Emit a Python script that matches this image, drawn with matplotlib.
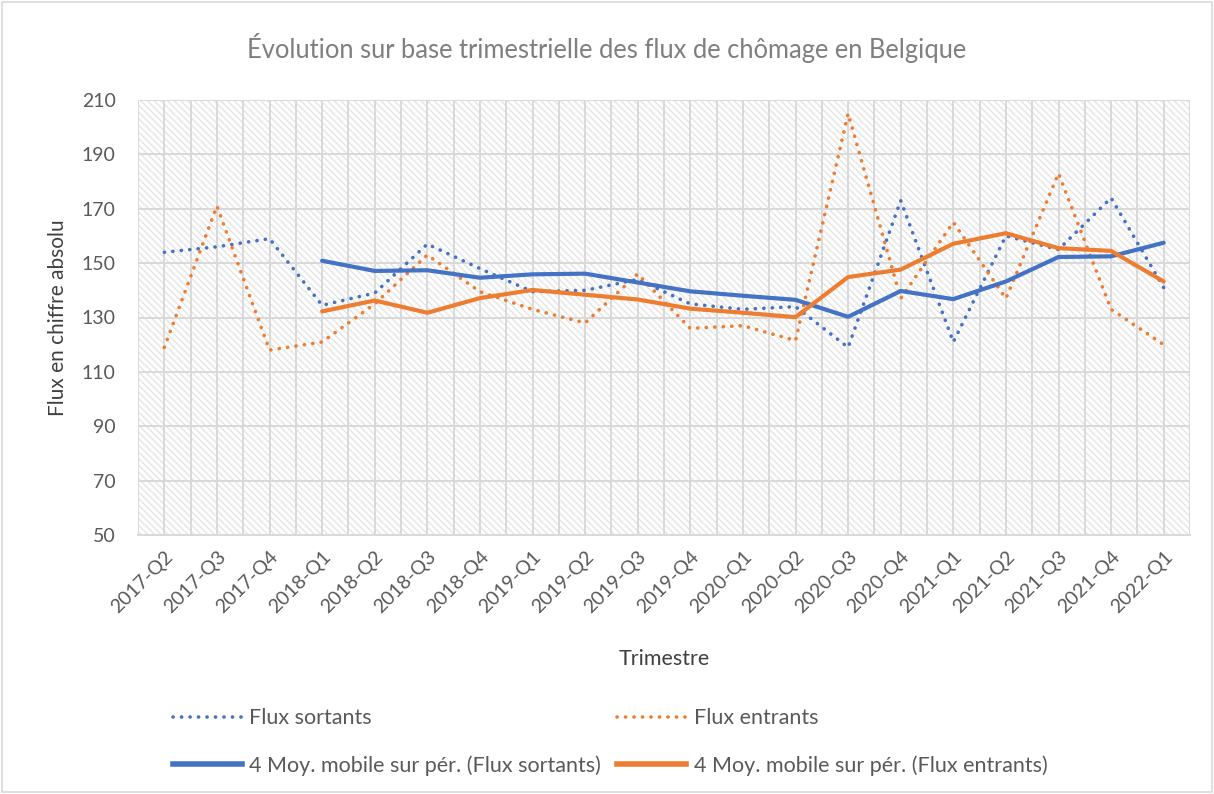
import numpy as np
import pandas as pd
import matplotlib
matplotlib.use('Agg')
import matplotlib.pyplot as plt
from matplotlib.patches import Rectangle
from matplotlib.lines import Line2D


quarters = ['2017-Q2', '2017-Q3', '2017-Q4', '2018-Q1', '2018-Q2', '2018-Q3',
            '2018-Q4', '2019-Q1', '2019-Q2', '2019-Q3', '2019-Q4', '2020-Q1',
            '2020-Q2', '2020-Q3', '2020-Q4', '2021-Q1', '2021-Q2', '2021-Q3',
            '2021-Q4', '2022-Q1']

flux_sortants = [154, 156, 159, 134.5, 139, 157, 148, 139.5, 140, 144,
                 135, 133, 134, 119, 173, 121, 160, 155, 174, 141]
flux_entrants = [119, 171, 118, 121, 135, 153, 139.5, 133, 128, 146,
                 126, 127, 121.5, 205, 137, 165, 137, 183, 133, 120]

yticks = [50, 70, 90, 110, 130, 150, 170, 190, 210]

# 4-period moving average trendline (like Excel)
ma_sortants = pd.Series(flux_sortants).rolling(4).mean()
ma_entrants = pd.Series(flux_entrants).rolling(4).mean()

blue = '#4472C4'
orange = '#ED7D31'
grey_txt = '#595959'
grid_c = '#D9D9D9'

plt.rcParams['font.family'] = ['Lato', 'DejaVu Sans']
plt.rcParams['hatch.linewidth'] = 1.0

fig = plt.figure(figsize=(12.14, 7.94), dpi=100)
ax = fig.add_axes([138/1214, 259/794, 1052/1214, 435/794])

# outer chart border
fig.add_artist(Rectangle((0.002, 0.002), 0.996, 0.996, transform=fig.transFigure,
                         fill=False, edgecolor=grid_c, linewidth=1.2))

# hatched plot area
ax.set_facecolor('white')
ax.add_patch(Rectangle((0, 0), 1, 1, transform=ax.transAxes, facecolor='white',
                       edgecolor='#E4E4E4', hatch='\\\\\\\\\\', linewidth=0, zorder=0))

x = np.arange(len(quarters))
dot = (0, (0.05, 2.3))
ax.plot(x, flux_sortants, color=blue, lw=2.6, linestyle=dot, dash_capstyle='round', zorder=3)
ax.plot(x, flux_entrants, color=orange, lw=2.6, linestyle=dot, dash_capstyle='round', zorder=3)
ax.plot(x, ma_sortants, color=blue, lw=3.0, solid_capstyle='round', zorder=4)
ax.plot(x, ma_entrants, color=orange, lw=3.0, solid_capstyle='round', zorder=4)

ax.set_xlim(-0.5, len(quarters) - 0.5)
ax.set_ylim(50, 210)
ax.set_yticks(yticks)
ax.set_xticks(x)
ax.set_xticks(np.arange(-0.5, len(quarters), 1.0), minor=True)
ax.set_xticklabels(quarters, rotation=45, ha='right', rotation_mode='anchor')
ax.tick_params(axis='both', length=0, labelsize=14, colors=grey_txt, which='both')
ax.tick_params(axis='x', pad=9)
ax.tick_params(axis='y', pad=16)

ax.grid(True, which='both', color=grid_c, linewidth=1.4, zorder=1)
ax.set_axisbelow(True)
for s in ['top', 'right', 'left']:
    ax.spines[s].set_visible(False)
ax.spines['bottom'].set_color(grid_c)
ax.spines['bottom'].set_linewidth(1.4)

ax.set_xlabel('Trimestre', fontsize=15.5, color='#404040', labelpad=24)
ax.set_ylabel('Flux en chiffre absolu', fontsize=15, color='#404040')
ax.yaxis.set_label_coords(-0.0665, 0.5)
fig.text(0.5, 1 - 48/794, 'Évolution sur base trimestrielle des flux de chômage en Belgique',
         ha='center', va='center', fontsize=18.4, color='#7F7F7F')

handles = [
    Line2D([], [], color=blue, lw=2.6, linestyle=dot, dash_capstyle='round'),
    Line2D([], [], color=blue, lw=4.0),
    Line2D([], [], color=orange, lw=2.6, linestyle=dot, dash_capstyle='round'),
    Line2D([], [], color=orange, lw=4.0),
]
labels = ['Flux sortants', '4 Moy. mobile sur pér. (Flux sortants)',
          'Flux entrants', '4 Moy. mobile sur pér. (Flux entrants)']
leg = fig.legend(handles, labels, ncol=2, loc='center left',
                 bbox_to_anchor=(162/1214, 1 - 742/794), frameon=False,
                 fontsize=15.5, handlelength=3.2, handletextpad=0.35,
                 columnspacing=0.75, labelspacing=1.25, borderpad=0)
for t in leg.get_texts():
    t.set_color(grey_txt)

fig.savefig('out.png', dpi=100)
